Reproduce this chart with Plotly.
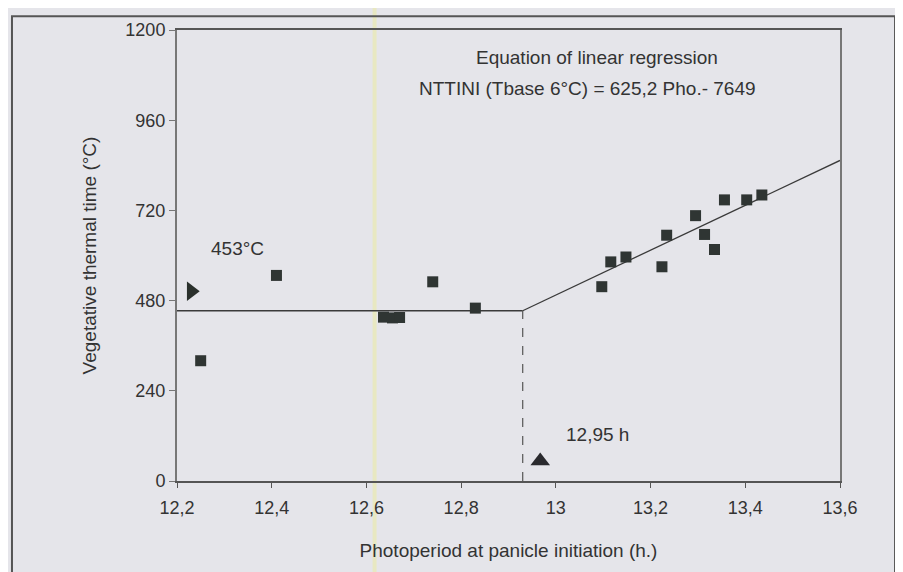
import plotly.graph_objects as go

# observed points (squares)
photoperiod = [12.25, 12.41, 12.636, 12.655, 12.67, 12.74, 12.83,
               13.097, 13.116, 13.148, 13.224, 13.234, 13.295, 13.314,
               13.335, 13.356, 13.403, 13.435]
thermal_time = [320, 547, 436, 434, 435, 530, 460,
                517, 583, 596, 570, 654, 706, 656,
                616, 748, 748, 761]

# fitted model: plateau then linear regression
plateau_x = [12.2, 12.93]
plateau_y = [453, 453]
regress_x = [12.93, 13.6]
regress_y = [453, 853]
threshold_x = [12.93, 12.93]
threshold_y = [0, 453]

# pointer markers
arrow_right = (12.23, 505)
arrow_up = (12.967, 53)

x_ticks = [12.2, 12.4, 12.6, 12.8, 13.0, 13.2, 13.4, 13.6]
x_labels = ["12,2", "12,4", "12,6", "12,8", "13", "13,2", "13,4", "13,6"]
y_ticks = [0, 240, 480, 720, 960, 1200]

bg = "#e5e5ea"
ink = "#333333"
font = "Liberation Sans, Arial, sans-serif"

fig = go.Figure()

fig.add_trace(go.Scatter(x=plateau_x, y=plateau_y, mode="lines",
                         line=dict(color="#3a3a3a", width=1.3), hoverinfo="skip"))
fig.add_trace(go.Scatter(x=regress_x, y=regress_y, mode="lines",
                         line=dict(color="#3a3a3a", width=1.3), hoverinfo="skip"))
fig.add_trace(go.Scatter(x=threshold_x, y=threshold_y, mode="lines",
                         line=dict(color="#555555", width=1.2, dash="dash"), hoverinfo="skip"))

fig.add_trace(go.Scatter(x=photoperiod, y=thermal_time, mode="markers",
                         marker=dict(symbol="square", size=11, color="#2f3533")))

fig.add_trace(go.Scatter(x=[arrow_right[0]], y=[arrow_right[1]], mode="markers",
                         marker=dict(symbol="triangle-right", size=17, color="#2a302c")))
fig.add_trace(go.Scatter(x=[arrow_up[0]], y=[arrow_up[1]], mode="markers",
                         marker=dict(symbol="triangle-up", size=17, color="#2a2a2e")))

annots = [
    dict(x=13.087, y=1126, text="Equation of linear regression"),
    dict(x=13.066, y=1045, text="NTTINI (Tbase 6°C) = 625,2 Pho.- 7649"),
    dict(x=12.327, y=618, text="453°C"),
    dict(x=13.087, y=125, text="12,95 h"),
]
for a in annots:
    fig.add_annotation(x=a["x"], y=a["y"], xref="x", yref="y", text=a["text"],
                       showarrow=False, font=dict(family=font, size=19, color=ink))

# scan artefact stripe
fig.add_shape(type="rect", xref="paper", yref="paper", x0=0.295, x1=0.301,
              y0=-0.3, y1=1.06, line=dict(width=0), fillcolor="rgba(235,235,160,0.55)",
              layer="below")

# outer frame
fig.add_shape(type="rect", xref="paper", yref="paper", x0=-0.2489, x1=1.083,
              y0=-0.3, y1=1.0307, line=dict(color="#555555", width=2))

fig.update_layout(
    width=895, height=564,
    margin=dict(l=169, r=63, t=17, b=91),
    paper_bgcolor=bg, plot_bgcolor=bg,
    showlegend=False,
    font=dict(family=font, color=ink, size=18),
    xaxis=dict(range=[12.2, 13.6], tickvals=x_ticks, ticktext=x_labels,
               showgrid=False, zeroline=False, showline=True, mirror=True,
               linecolor="#555555", linewidth=1.5, ticks="outside", ticklen=5,
               tickcolor="#555555", tickfont=dict(size=18), ticklabelstandoff=5,
               title=dict(text="Photoperiod at panicle initiation (h.)",
                          font=dict(size=19), standoff=26)),
    yaxis=dict(range=[0, 1200], tickvals=y_ticks,
               showgrid=False, zeroline=False, showline=True, mirror=True,
               linecolor="#777777", linewidth=2, ticks="outside", ticklen=6,
               tickcolor="#777777", tickfont=dict(size=18),
               title=dict(text="Vegetative thermal time (°C)",
                          font=dict(size=19), standoff=24)),
)

fig.write_html("out.html")
